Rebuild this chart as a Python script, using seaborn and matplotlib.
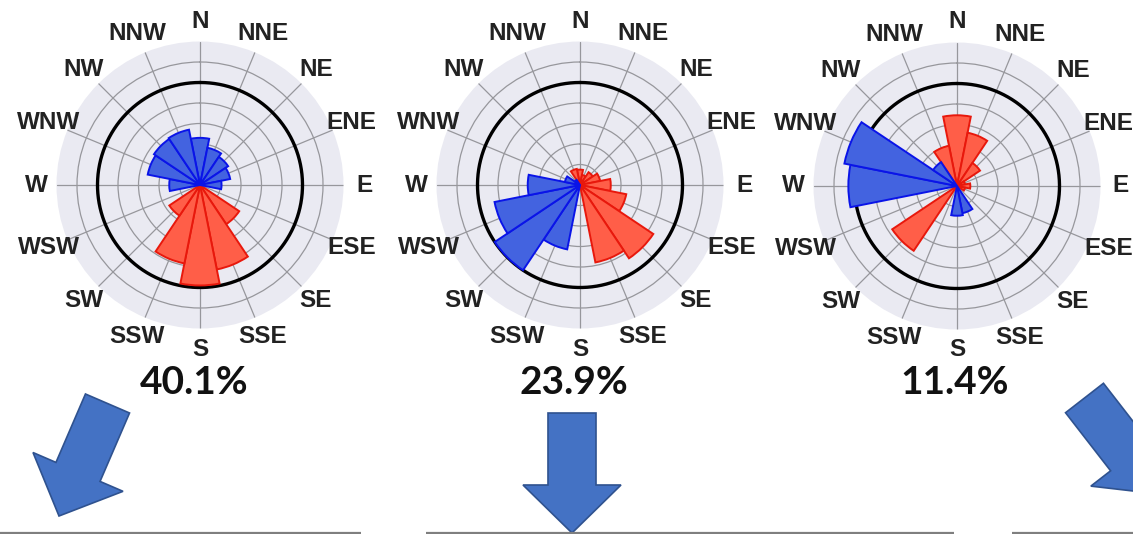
import numpy as np
import pandas as pd
import matplotlib
matplotlib.use("Agg")
import matplotlib.pyplot as plt
from matplotlib.patches import FancyArrow
import seaborn as sns

# ---- data -------------------------------------------------------------
directions = ["N", "NNE", "NE", "ENE", "E", "ESE", "SE", "SSE",
              "S", "SSW", "SW", "WSW", "W", "WNW", "NW", "NNW"]

# frequency per direction sector (one colour per sector)
rose1_red = [0, 0, 0, 0, 0, 0, 2.3, 4.2, 4.9, 3.9, 1.8, 0, 0, 0, 0, 0]
rose1_blue = [2.3, 1.85, 1.65, 1.5, 1.05, 0, 0, 0, 0, 0, 0, 0, 1.5, 2.6, 2.7, 2.75]

rose2_red = [0.75, 0.5, 0.75, 1.0, 1.5, 2.3, 4.3, 3.85, 0, 0, 0, 0, 0, 0, 0, 0.8]
rose2_blue = [0, 0, 0, 0, 0, 0, 0, 0, 0, 3.2, 5.0, 4.25, 2.55, 0.75, 0.3, 0]

rose3_red = [3.45, 2.65, 1.35, 0.4, 0.65, 0.4, 0, 0, 0, 0, 3.8, 0, 0, 0, 0, 2.0]
rose3_blue = [0, 0, 0, 0, 0, 0, 0, 1.35, 1.45, 0, 0, 0, 5.3, 5.6, 1.4, 0]

shares = ["40.1%", "23.9%", "11.4%"]

# ---- styling ------------------------------------------------------------
sns.set_theme(style="darkgrid")
plt.rcParams["font.family"] = ["Liberation Sans", "DejaVu Sans"]

RED_FILL, RED_EDGE = "#FF5E48", "#E8180C"
BLUE_FILL, BLUE_EDGE = "#4363E0", "#0A14E8"
DISK = "#EAEAF2"
GRID = "#97979C"
ARROW_FILL, ARROW_EDGE = "#4472C4", "#2F528F"

W, H = 1133, 534
R_PX = 143.5          # radius of the disk in pixels
R_MAX = 7.0           # radial extent in data units
centers = [(200, 185), (580, 185), (957, 186)]
share_x = [194, 574, 955]

roses = []
for red, blue in [(rose1_red, rose1_blue),
                  (rose2_red, rose2_blue),
                  (rose3_red, rose3_blue)]:
    df = pd.DataFrame({"direction": directions, "red": red, "blue": blue})
    df["theta"] = np.deg2rad(np.arange(len(directions)) * 22.5)
    roses.append(df)

fig = plt.figure(figsize=(W / 100, H / 100), dpi=100)
fig.patch.set_facecolor("white")

width = 2 * np.pi / len(directions)
ring = np.linspace(0, 2 * np.pi, 400)

for df, (cx, cy), label, lx in zip(roses, centers, shares, share_x):
    ax = fig.add_axes([(cx - R_PX) / W, 1 - (cy + R_PX) / H,
                       2 * R_PX / W, 2 * R_PX / H], projection="polar")
    ax.set_theta_zero_location("N")
    ax.set_theta_direction(-1)
    ax.set_facecolor(DISK)
    ax.spines["polar"].set_visible(False)
    ax.set_ylim(0, R_MAX)
    ax.set_xticks(df["theta"])
    ax.set_xticklabels([])
    ax.set_yticks(np.arange(1, 7))
    ax.set_yticklabels([])
    ax.grid(True, color=GRID, linewidth=0.9)
    ax.set_axisbelow(True)

    # heavy reference ring
    ax.plot(ring, np.full_like(ring, 5.0), color="black", linewidth=2.4, zorder=1.5)

    ax.bar(df["theta"], df["red"], width=width, bottom=0,
           color=RED_FILL, edgecolor=RED_EDGE, linewidth=1.4, zorder=2)
    ax.bar(df["theta"], df["blue"], width=width, bottom=0,
           color=BLUE_FILL, edgecolor=BLUE_EDGE, linewidth=1.4, zorder=2)

    for th, name in zip(df["theta"], df["direction"]):
        ax.text(th, 8.0, name, ha="center", va="center", fontsize=17.5,
                fontweight="bold", color="#222222", clip_on=False)

    fig.text(lx / W, 1 - 382 / H, label, ha="center", va="center",
             fontsize=28, fontweight="bold", color="#111111",
             family=["Lato", "DejaVu Sans"])

# ---- arrows and baseline segments (pixel overlay) --------------------
ov = fig.add_axes([0, 0, 1, 1], zorder=-1)
ov.set_xlim(0, W)
ov.set_ylim(H, 0)
ov.axis("off")

arrows = [
    # (tail x, tail y, tip x, tip y)
    (107.5, 403.5, 59, 516),
    (572, 413, 572, 533),
    (1084.5, 398, 1159, 494),
]
for x0, y0, x1, y1 in arrows:
    ov.add_patch(FancyArrow(x0, y0, x1 - x0, y1 - y0, width=48,
                            head_width=98, head_length=48,
                            length_includes_head=True,
                            facecolor=ARROW_FILL, edgecolor=ARROW_EDGE,
                            linewidth=1.2))

for xa, xb in [(0, 361), (426, 954), (1012, 1133)]:
    ov.plot([xa, xb], [532.5, 532.5], color="#7F7F7F", linewidth=1.6,
            solid_capstyle="butt")

fig.savefig("out.png", dpi=100, facecolor="white")
